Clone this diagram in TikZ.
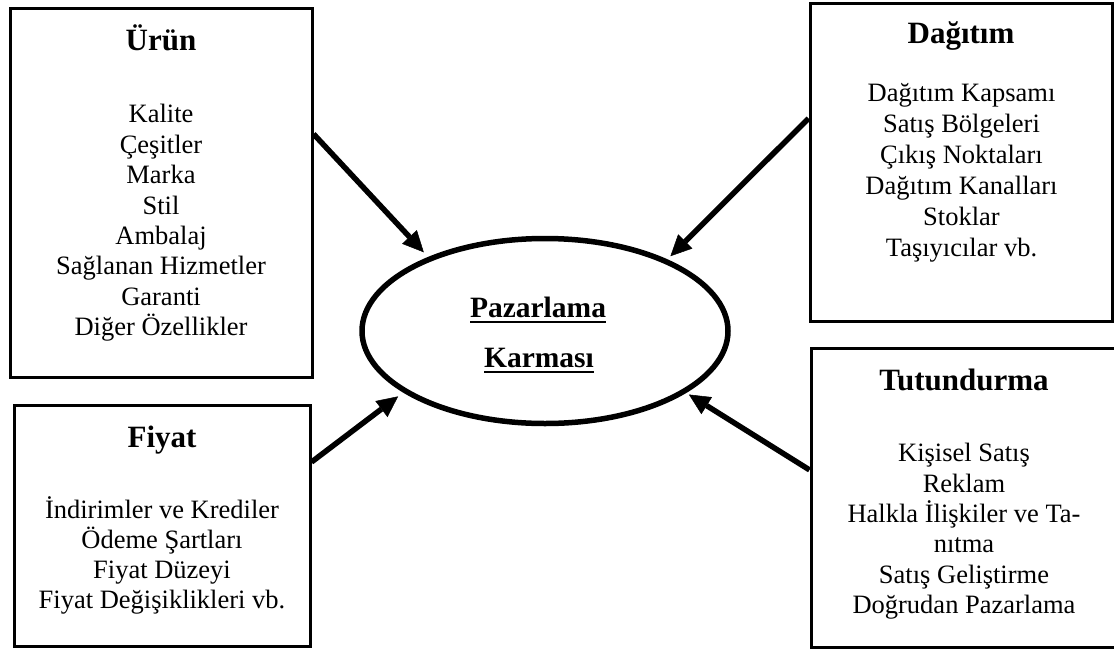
\documentclass[tikz,border=0pt]{standalone}
\usepackage{fontspec}
\setmainfont{Liberation Serif}
\usetikzlibrary{arrows.meta,shapes.geometric}
\newcommand\ulx[2]{\setbox0\hbox{#2}\rlap{\rule[-#1]{\wd0}{2pt}}\box0}
\newcommand\fstrut{\rule{0pt}{24pt}}
\tikzset{
  boxst/.style={draw, line width=3pt, inner sep=0pt},
  ttl/.style={font=\bfseries\fontsize{31}{36}\selectfont, anchor=base, inner sep=0pt},
  bdy/.style={font=\fontsize{26.5}{30.4}\selectfont, align=center, anchor=north, inner sep=0pt},
  pmt/.style={font=\bfseries\fontsize{29.5}{34}\selectfont, anchor=base, inner sep=0pt},
  arr/.style={line width=5.5pt, -{Triangle[length=21pt,width=20pt,line width=0.5pt]}},
}
\begin{document}
\begin{tikzpicture}[x=1pt,y=-1pt]
\path[use as bounding box, fill=white] (0,0) rectangle (1114,651);

% boxes
\node[boxst, minimum width=302pt, minimum height=369pt] (urun) at (161,192.5) {};
\node[boxst, minimum width=302.5pt, minimum height=317.5pt] (dag) at (961.25,162.25) {};
\node[boxst, minimum width=296pt, minimum height=241pt] (fiy) at (162,525.5) {};
\node[boxst, minimum width=310pt, minimum height=299pt] (tut) at (966,497.5) {};

% titles
\node[ttl] (urunT) at (161,50) {Ürün};
\node[ttl] (dagT) at (961,43.3) {Dağıtım};
\node[ttl] (fiyT) at (162,447.7) {Fiyat};
\node[ttl] (tutT) at (964,390) {Tutundurma};

% bodies
\node[bdy] (urunB) at (161,98.7) {\fstrut Kalite\\Çeşitler\\Marka\\Stil\\Ambalaj\\Sağlanan Hizmetler\\Garanti\\Diğer Özellikler};
\node[bdy, font=\fontsize{26.5}{31}\selectfont] (dagB) at (961.5,77.7) {\fstrut Dağıtım Kapsamı\\Satış Bölgeleri\\Çıkış Noktaları\\Dağıtım Kanalları\\Stoklar\\Taşıyıcılar vb.};
\node[bdy, font=\fontsize{26.5}{30}\selectfont] (fiyB) at (162,494.3) {\fstrut İndirimler ve Krediler\\Ödeme Şartları\\Fiyat Düzeyi\\Fiyat Değişiklikleri vb.};
\node[bdy, font=\fontsize{26.5}{30.3}\selectfont] (tutB) at (964,437.7) {\fstrut Kişisel Satış\\Reklam\\Halkla İlişkiler ve Ta-\\nıtma\\Satış Geliştirme\\Doğrudan Pazarlama};

% centre ellipse
\node[draw, ellipse, line width=5.5pt, minimum width=366pt, minimum height=185pt, inner sep=0pt, outer sep=9pt] (pm) at (545,331) {};
\node[pmt] (pm1) at (538,317) {\ulx{5.7pt}{Pazarlama}};
\node[pmt] (pm2) at (539,367) {\ulx{5.5pt}{Karması}};

% arrows
\draw[arr] (urun.21) -- (pm.147.6);
\draw[arr, shorten >=-2pt] (dag.164.2) -- (pm.31.6);
\draw[arr] (fiy.23) -- (pm.204.5);
\draw[arr, shorten >=-3.5pt] (tut.170.75) -- (pm.336.5);
\end{tikzpicture}
\end{document}
